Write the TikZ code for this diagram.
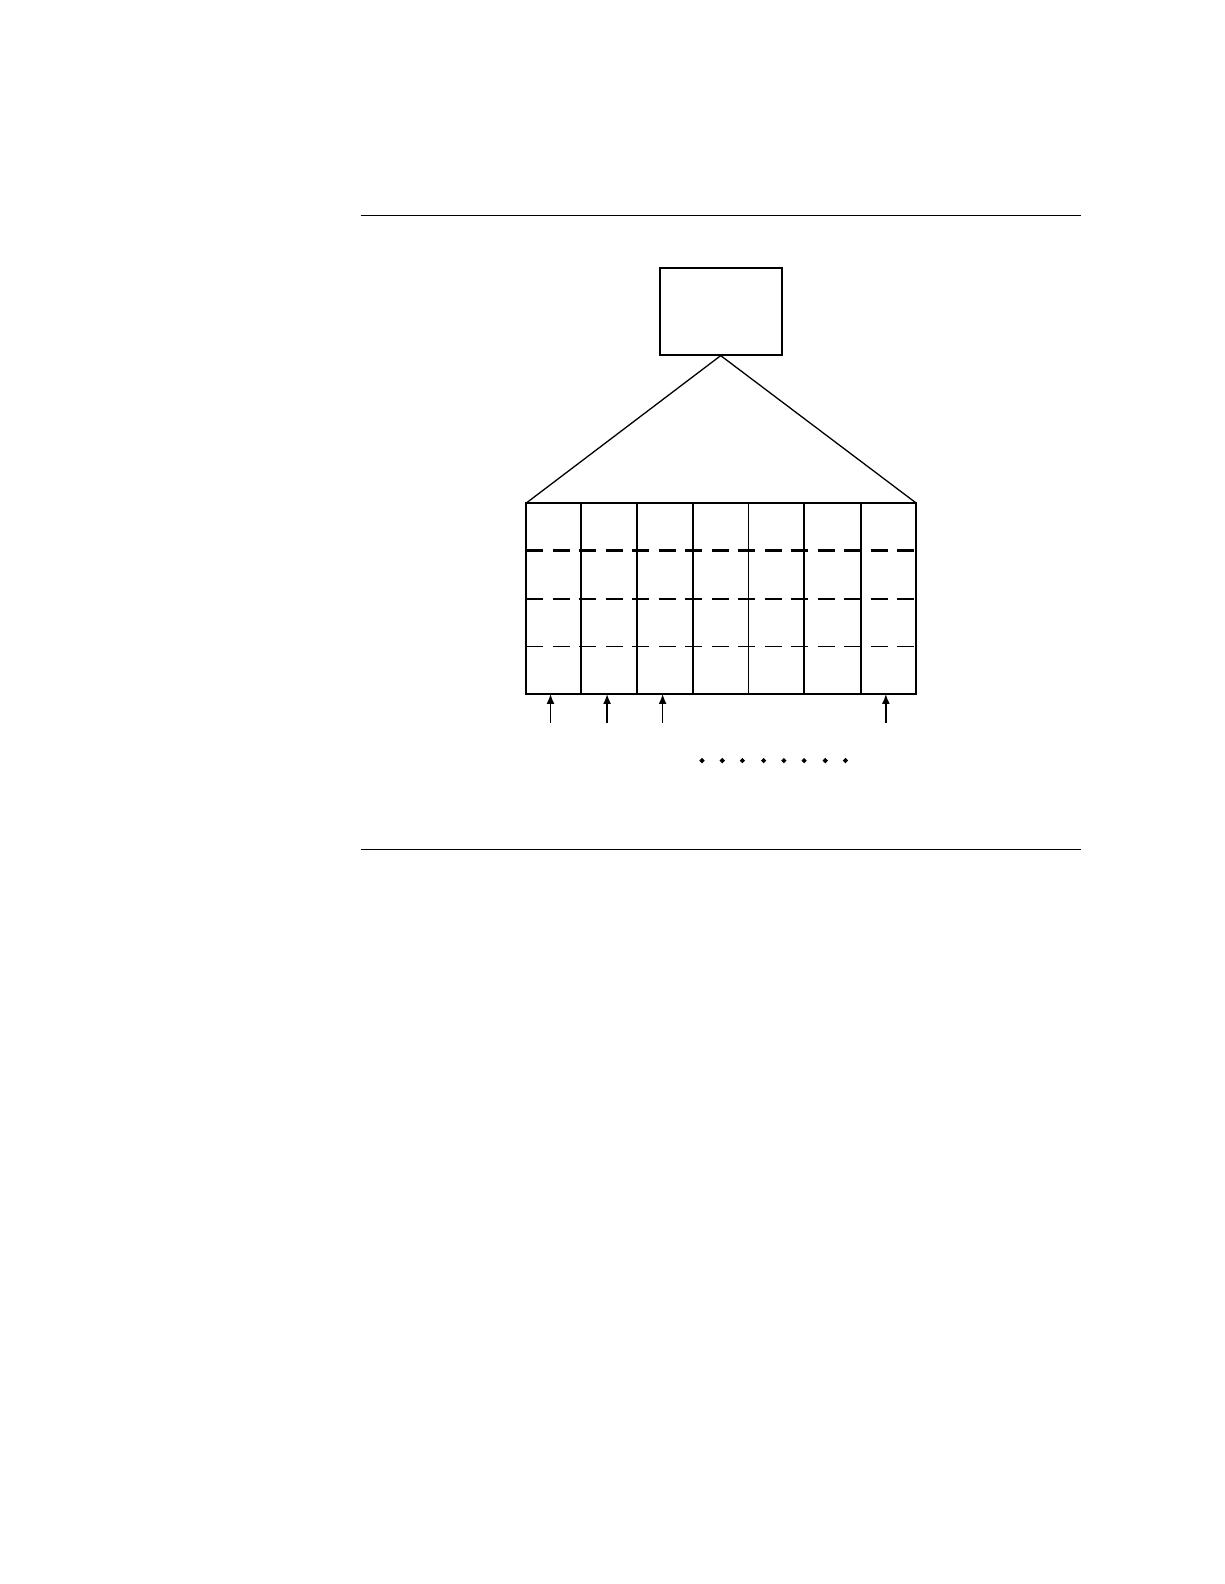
\documentclass[tikz,border=0pt]{standalone}
\usetikzlibrary{arrows.meta,shapes.geometric}
\begin{document}
\begin{tikzpicture}[x=1.0101pt,y=-1.0101pt,
  rule/.style={line width=1pt},
  frame/.style={line width=2pt},
  thin/.style={line width=1.3pt},
  dashthick/.style={line width=2.3pt,dash pattern=on 17pt off 9.5pt},
  dashthin/.style={line width=1.1pt,dash pattern=on 17pt off 9.5pt},
  inarrow/.style={line width=1.6pt,-{Latex[length=10pt,width=8pt]}},
  dot/.style={diamond,fill=black,inner sep=0pt,minimum size=5.5pt}]
\useasboundingbox (0pt,0pt) rectangle (1224pt,-1584pt);
\draw[rule] (357,213) coordinate (r1a) -- (1070,213) coordinate (r1b);
\draw[rule] (357,841) coordinate (r2a) -- (1070,841) coordinate (r2b);
\node[draw,frame,minimum width=122pt,minimum height=87pt,inner sep=0pt] (top) at (713.5,308) {};
\coordinate (gTL) at (521,498);
\coordinate (gTR) at (907,498);
\draw[thin] (top.south) -- (gTL);
\draw[thin] (top.south) -- (gTR);
\draw[dashthick] (521,545) -- (907,545);
\draw[dashthick] (521,593) -- (907,593);
\draw[dashthin] (521,640) -- (907,640);
\foreach \x in {575,631,686,796,852} \draw[frame] (\x,498) -- (\x,687);
\draw[thin] (741,498) -- (741,687);
\draw[frame] (521,498) rectangle (907,687);
\foreach \x [count=\i] in {545,601,656,877} {
  \coordinate (as\i) at (\x,716);
  \coordinate (ae\i) at (\x,687);
  \draw[inarrow] (as\i) -- (ae\i);
}
\foreach \x [count=\i] in {695,715,735,756,776,796,817,837}
  \node[dot] (d\i) at (\x,753) {};
\end{tikzpicture}
\end{document}
